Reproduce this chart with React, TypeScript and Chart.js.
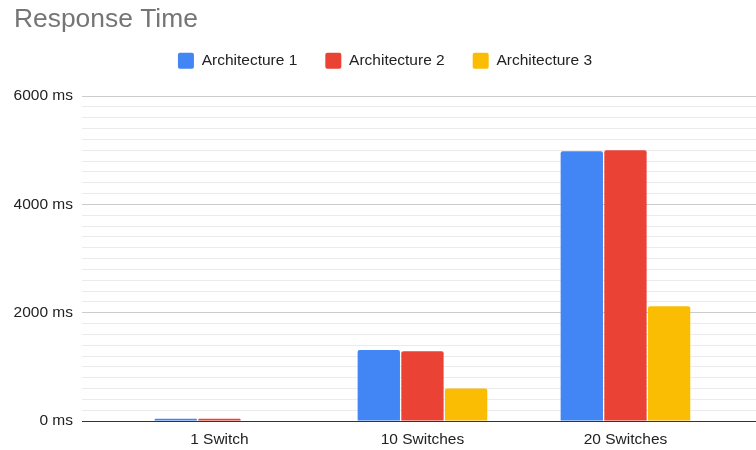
import { useEffect, useRef } from 'react';
import { Chart, registerables } from 'chart.js';

Chart.register(...registerables);

const categories = ['1 Switch', '10 Switches', '20 Switches'];
const seriesNames = ['Architecture 1', 'Architecture 2', 'Architecture 3'];
const arch1 = [40, 1310, 4980];
const arch2 = [40, 1290, 5000];
const arch3 = [0, 600, 2120];
const seriesColors = ['#4285F4', '#EA4335', '#FBBC04'];
const yMax = 6000;
const yStep = 200;
const yLabelStep = 2000;

const FONT = '"Liberation Sans", Arial, sans-serif';
const LABEL_SIZE = 15.5;

export default function App() {
  const ref = useRef<HTMLCanvasElement>(null);

  useEffect(() => {
    const series = [arch1, arch2, arch3];
    const chart = new Chart(ref.current as HTMLCanvasElement, {
      type: 'bar',
      data: {
        datasets: series.map((vals, k) => ({
          label: seriesNames[k],
          data: vals.map((v, i) => ({ x: i, y: v })),
          backgroundColor: seriesColors[k],
          borderColor: seriesColors[k],
          borderWidth: 0,
          borderRadius: { topLeft: 2, topRight: 2, bottomLeft: 0, bottomRight: 0 },
          borderSkipped: 'start',
          categoryPercentage: 0.645,
          barPercentage: 0.97,
        })),
      },
      options: {
        responsive: true,
        maintainAspectRatio: false,
        animation: false,
        layout: { padding: { left: 14, right: 0, top: 0, bottom: 0 } },
        plugins: {
          title: {
            display: true,
            text: 'Response Time',
            align: 'start',
            color: '#757575',
            font: { family: FONT, size: 26.4, weight: 'normal', lineHeight: 1 },
            padding: { top: 7, bottom: -8.7 },
          },
          subtitle: {
            display: true,
            text: '',
            weight: 500,
            font: { size: 1, lineHeight: 1 },
            padding: { top: 0, bottom: 16.3 },
          },
          legend: {
            display: true,
            position: 'top',
            align: 'center',
            labels: {
              font: { family: FONT, size: LABEL_SIZE },
              color: '#222222',
              boxWidth: 16,
              boxHeight: 16,
              padding: 28,
              useBorderRadius: true,
              borderRadius: 2,
            },
          },
          tooltip: { enabled: false },
        },
        scales: {
          x: {
            type: 'linear',
            offset: false,
            bounds: 'data',
            min: -0.677,
            max: 2.643,
            grid: { display: false, drawTicks: false, offset: false },
            border: { display: true, color: '#333333', width: 1 },
            afterBuildTicks: (axis: any) => {
              axis.ticks = categories.map((_, i) => ({ value: i }));
            },
            afterFit: (axis: any) => {
              axis.height = 29;
            },
            ticks: {
              font: { family: FONT, size: LABEL_SIZE },
              color: '#222222',
              padding: 9.5,
              autoSkip: false,
              maxRotation: 0,
              callback: (v: any) => categories[v as number] ?? '',
            },
          },
          y: {
            min: 0,
            max: yMax,
            border: { display: false },
            afterFit: (axis: any) => {
              axis.width = 68;
            },
            grid: {
              drawTicks: false,
              color: (ctx: any) => {
                const v = ctx.tick ? ctx.tick.value : 0;
                if (v === 0) return '#333333';
                return v % yLabelStep === 0 ? '#cccccc' : '#ebebeb';
              },
            },
            ticks: {
              stepSize: yStep,
              autoSkip: false,
              padding: 9,
              font: { family: FONT, size: LABEL_SIZE },
              color: '#222222',
              callback: (v: any) => (Number(v) % yLabelStep === 0 ? `${v} ms` : ''),
            },
          },
        },
      },
    });
    return () => chart.destroy();
  }, []);

  return (
    <div style={{ position: 'absolute', left: 0, top: 0, width: 756, height: 450 }}>
      <canvas ref={ref} />
    </div>
  );
}
